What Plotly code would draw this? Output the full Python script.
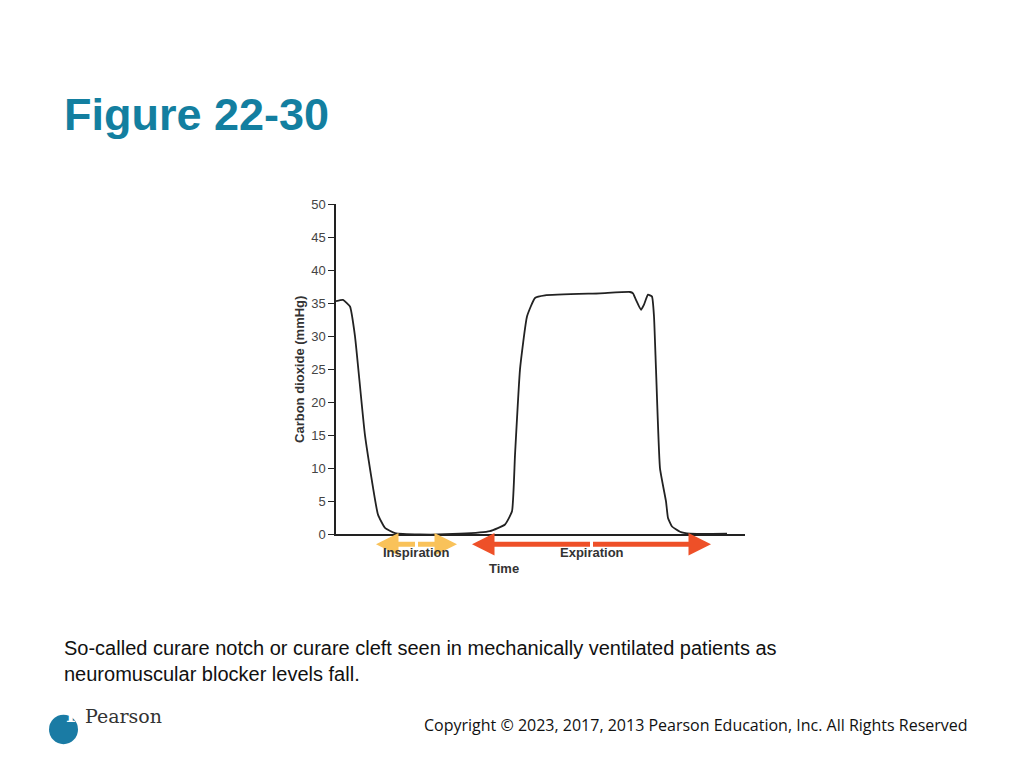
import plotly.graph_objects as go

# time in arbitrary units (0..409 across the axis)
time = [0, 7, 14, 19, 29, 42, 49, 59, 84, 124, 154, 169, 176, 179, 184, 191, 199, 209,
        264, 294, 297, 300, 305, 308, 312, 316, 318, 320, 324, 330, 332, 336, 344, 354, 391]
co2 = [35.3, 35.5, 34.5, 30, 15, 3, 1, 0.2, 0, 0.1, 0.5, 1.5, 3.5, 12, 25, 33, 35.8, 36.2,
       36.5, 36.7, 36.5, 35.5, 34, 34.8, 36.3, 36.0, 33, 25, 10, 5, 2.5, 1.2, 0.4, 0.1, 0.1]
y_ticks = [0, 5, 10, 15, 20, 25, 30, 35, 40, 45, 50]

W, H, OFF = 1008, 752, 8  # page has an 8px body margin


def px(x):
    return (x - OFF) / W


def py(y):
    return 1 - (y - OFF) / H


fig = go.Figure()
fig.add_trace(go.Scatter(x=time, y=co2, mode='lines', line=dict(color='#222', width=1.8, shape='spline', smoothing=0.4),
                         hoverinfo='skip', showlegend=False))

fig.update_layout(
    width=W, height=H, margin=dict(l=0, r=0, t=0, b=0),
    paper_bgcolor='white', plot_bgcolor='white',
    font=dict(family='Arial, Liberation Sans', color='#333'),
    xaxis=dict(domain=[px(336), px(745)], range=[0, 409], showgrid=False, zeroline=False,
               showline=True, linecolor='#222', linewidth=2, showticklabels=False, ticks=''),
    yaxis=dict(domain=[py(538), py(201)], range=[0, 50], tickvals=y_ticks, showgrid=False,
               zeroline=False, showline=True, linecolor='#222', linewidth=1.5, ticks='outside',
               ticklen=6, tickcolor='#222', tickfont=dict(size=13, color='#444'),
               title=dict(text='<b>Carbon dioxide (mmHg)</b>', font=dict(size=13, color='#333'), standoff=4)),
)

# arrows under the axis (x in data units, offsets in pixels: 1 unit = 1 px)
for x0, x1, col in [(40, 121, '#F9C25A'), (136, 375, '#EE5028')]:
    half = (x1 - x0) / 2
    for a, off in [(x0, half), (x1, -half)]:
        fig.add_annotation(x=a, y=py(548), ax=off, ay=0, xref='x', yref='paper',
                           showarrow=True, arrowhead=2, arrowsize=0.9, arrowwidth=5, arrowcolor=col, text='')
for txt, xv, yv in [('Inspiration', 80, 566), ('Expiration', 256, 566), ('Time', 168, 582)]:
    fig.add_annotation(x=xv, y=py(yv), xref='x', yref='paper', text='<b>' + txt + '</b>', showarrow=False,
                       font=dict(size=13, color='#333'))

fig.add_annotation(x=px(62), y=py(110), xref='paper', yref='paper', xanchor='left', yanchor='middle',
                   text='<b>Figure 22-30</b>', showarrow=False,
                   font=dict(family='Liberation Sans, Arial', size=45, color='#137FA0'))
fig.add_annotation(x=px(62), y=py(667), xref='paper', yref='paper', xanchor='left', yanchor='middle',
                   align='left', showarrow=False,
                   text='So-called curare notch or curare cleft seen in mechanically ventilated patients as<br>'
                        'neuromuscular blocker levels fall.',
                   font=dict(family='Liberation Sans, Arial', size=20, color='#111'))
fig.add_annotation(x=px(970), y=py(732), xref='paper', yref='paper', xanchor='right', yanchor='middle',
                   text='Copyright © 2023, 2017, 2013 Pearson Education, Inc. All Rights Reserved', showarrow=False,
                   font=dict(family='Open Sans', size=16, color='#111'))

# Pearson logo
fig.add_shape(type='circle', xref='paper', yref='paper', x0=px(49), x1=px(78),
              y0=py(752), y1=py(722), fillcolor='#1A7BA4', line=dict(width=0), layer='below')
fig.add_annotation(x=px(64), y=py(737), xref='paper', yref='paper', text='<b>P</b>', showarrow=False,
                   font=dict(family='DejaVu Serif', size=20, color='white'))
fig.add_annotation(x=px(83), y=py(737), xref='paper', yref='paper', xanchor='left', text='Pearson',
                   showarrow=False, font=dict(family='DejaVu Serif', size=19, color='#333'))

fig.write_html("out.html")
